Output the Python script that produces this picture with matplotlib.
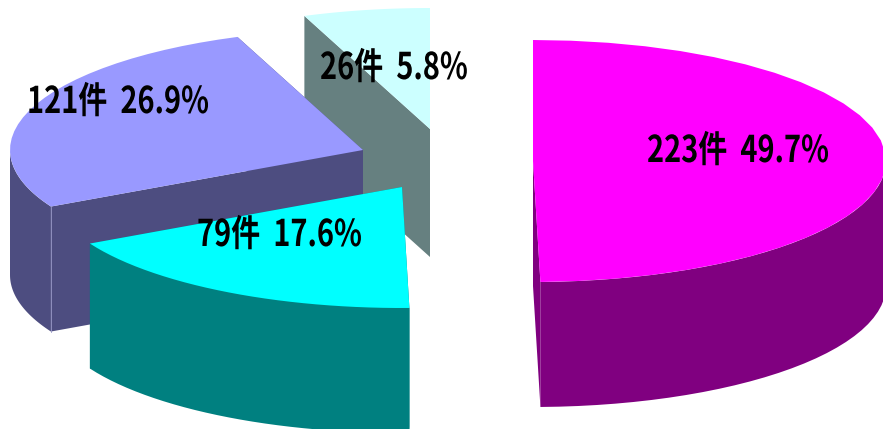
import numpy as np
import matplotlib
matplotlib.use('Agg')
import matplotlib.pyplot as plt
from matplotlib.patches import Polygon
from matplotlib.patheffects import AbstractPathEffect
from matplotlib.transforms import Affine2D

# slices, clockwise from 12 o'clock
counts = [223, 79, 121, 26]
percents = [49.7, 17.6, 26.9, 5.8]
top_colors = ['#FF00FF', '#00FFFF', '#9999FF', '#CCFFFF']
side_colors = ['#800080', '#008080', '#4D4D80', '#668080']

# exploded centre of each slice, in pixels
centers = [(533, 161), (402, 187), (363, 150), (430, 129)]
depths = [125, 125, 125, 128]
label_pos = [(647, 162), (197, 246), (27, 113), (320, 79)]
draw_order = [3, 2, 1, 0]

RX, RY = 353, 121

plt.rcParams['font.family'] = ['Noto Sans CJK JP', 'DejaVu Sans']


class Condense(AbstractPathEffect):
    # squeeze the glyphs sideways, the font has no narrow cut
    def __init__(self, x0, sx):
        super().__init__()
        self.x0 = x0
        self.sx = sx

    def draw_path(self, renderer, gc, tpath, affine, rgbFace=None):
        squeeze = Affine2D().translate(-self.x0, 0).scale(self.sx, 1).translate(self.x0, 0)
        renderer.draw_path(gc, tpath, affine + squeeze, rgbFace)


fig = plt.figure(figsize=(8.83, 4.29), dpi=100)
ax = fig.add_axes([0, 0, 1, 1])
ax.set_xlim(0, 883)
ax.set_ylim(429, 0)
ax.axis('off')

edges = np.cumsum([0] + counts) / sum(counts) * 2 * np.pi


def ell(c, t):
    return np.column_stack([c[0] + RX * np.sin(t), c[1] - RY * np.cos(t)])


for z, i in enumerate(draw_order):
    c = centers[i]
    arc = ell(c, np.linspace(edges[i], edges[i + 1], 30))
    down = np.array([0, depths[i]])

    # cut faces
    for p in (arc[0], arc[-1]):
        face = [c, p, p + down, np.array(c) + down]
        ax.add_patch(Polygon(face, closed=True, fc=side_colors[i], ec='none', zorder=z * 3 + 1))

    # outer wall, only the front half of the rim shows
    lo, hi = max(edges[i], np.pi / 2), min(edges[i + 1], 3 * np.pi / 2)
    if hi > lo:
        front = ell(c, np.linspace(lo, hi, 30))
        wall = np.vstack([front, (front + down)[::-1]])
        ax.add_patch(Polygon(wall, closed=True, fc=side_colors[i], ec='none', zorder=z * 3 + 2))

    # top
    top = np.vstack([[c], arc])
    ax.add_patch(Polygon(top, closed=True, fc=top_colors[i], ec='none', zorder=z * 3 + 3))

# thin light seam on the lavender slice
p = ell(centers[2], np.array([edges[2]]))[0]
ax.plot([p[0], p[0]], [p[1], p[1] + depths[2]], color='#9A9AC8', lw=0.6, zorder=9)

for n, pct, pos in zip(counts, percents, label_pos):
    ax.text(pos[0], pos[1], f'{n}件  {pct}%', fontsize=26.5, fontweight='bold',
            color='black', ha='left', va='baseline', zorder=20,
            path_effects=[Condense(pos[0], 0.787)])

fig.savefig('out.png', dpi=100)
